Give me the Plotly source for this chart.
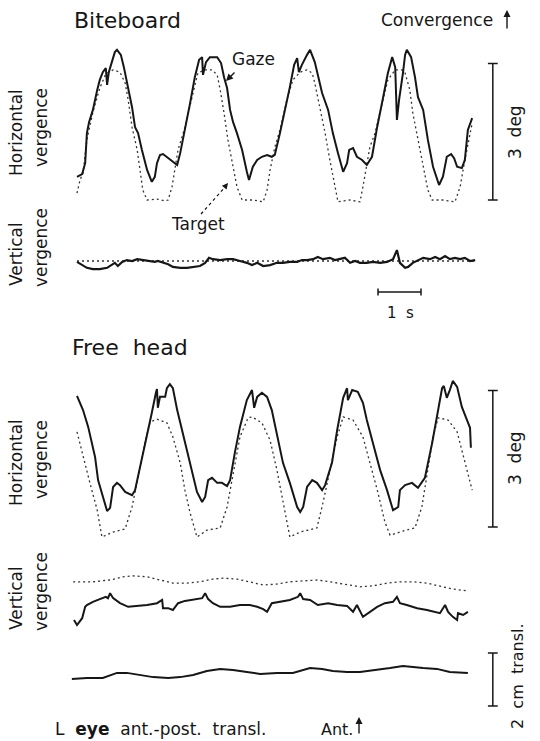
import plotly.graph_objects as go

W, H = 540, 741
FONT = "DejaVu Sans"
INK = "#161616"

# ---------------- data (time in s, vergence in deg, translation in cm) ----------------
# Biteboard - horizontal vergence, gaze
bb_gaze_t = [0.00,0.12,0.19,0.23,0.28,0.37,0.47,0.53,0.60,0.67,0.70,0.74,0.81,0.88,0.93,1.02,1.09,1.19,1.28,1.35,
             1.42,1.51,1.63,1.74,1.81,1.86,1.93,2.00,2.12,2.23,2.33,2.40,2.51,2.63,2.74,2.84,2.91,2.93,3.00,3.09,
             3.26,3.35,3.42,3.49,3.56,3.63,3.72,3.84,3.95,4.00,4.09,4.19,4.30,4.42,4.53,4.60,4.72,4.84,4.95,5.05,
             5.12,5.16,5.23,5.35,5.42,5.53,5.63,5.70,5.84,5.95,6.07,6.19,6.28,6.33,6.42,6.51,6.63,6.74,6.86,6.98,
             7.12,7.23,7.33,7.40,7.44,7.49,7.58,7.63,7.67,7.77,7.86,7.93,8.05,8.16,8.28,8.42,8.51,8.60,8.70,8.77,
             8.84,8.95,9.02,9.09,9.19]
bb_gaze_v = [0.51,0.57,0.81,1.47,1.71,1.98,2.42,2.64,2.81,2.90,2.53,2.81,3.03,3.25,3.30,3.19,2.92,2.48,2.04,1.60,
             1.47,1.10,0.66,0.40,0.51,0.81,0.99,1.01,0.92,0.84,0.77,1.03,1.54,2.13,2.70,3.08,3.14,2.75,3.03,3.14,
             3.14,3.01,2.70,2.46,1.98,1.71,1.47,1.10,0.62,0.44,0.73,0.88,0.95,0.99,0.95,0.99,1.47,1.98,2.48,2.97,
             3.12,2.81,2.97,3.19,3.30,3.03,2.64,2.35,1.98,1.47,1.03,0.62,0.81,1.10,1.14,0.95,0.88,0.77,0.95,1.60,
             2.26,2.79,3.14,2.92,1.76,2.20,2.79,3.19,3.30,3.14,2.70,2.26,1.98,1.32,0.73,0.33,0.51,0.95,1.01,0.92,
             0.73,0.70,0.88,1.54,1.80]

# Biteboard - horizontal vergence, target
bb_tgt_t = [0.00,0.07,0.14,0.23,0.37,0.53,0.67,0.84,1.00,1.12,1.19,1.28,1.40,1.47,1.53,1.63,1.86,2.05,2.12,2.21,
            2.28,2.35,2.51,2.67,2.81,2.98,3.14,3.26,3.33,3.42,3.51,3.63,3.72,3.84,4.09,4.33,4.42,4.49,4.60,4.72,
            4.88,5.02,5.19,5.35,5.47,5.53,5.65,5.77,5.88,6.00,6.07,6.35,6.58,6.65,6.74,6.81,6.93,7.09,7.23,7.40,
            7.56,7.63,7.74,7.81,7.93,8.05,8.16,8.26,8.51,8.79,8.91,9.02,9.14,9.19]
bb_tgt_v = [0.15,0.44,0.59,1.32,1.93,2.46,2.77,2.86,2.81,2.57,2.20,1.60,1.10,0.59,0.22,0.00,0.02,-0.02,0.00,0.29,
            0.73,1.10,1.60,2.26,2.79,2.86,2.86,2.75,2.42,1.91,1.32,0.73,0.29,0.00,0.00,-0.04,0.22,0.66,1.16,1.54,
            2.20,2.64,2.81,2.86,2.79,2.57,2.04,1.47,0.88,0.29,-0.04,0.00,-0.04,0.29,0.81,1.16,1.47,2.13,2.64,2.86,
            2.86,2.79,2.42,1.91,1.32,0.73,0.22,0.00,0.00,-0.04,0.29,0.88,1.47,1.69]

# Biteboard - vertical vergence
bb_vert_t = [0.00,0.12,0.23,0.37,0.53,0.70,0.81,0.88,0.95,1.05,1.16,1.28,1.40,1.53,1.65,1.81,1.88,2.00,2.12,2.23,
             2.40,2.56,2.70,2.86,2.98,3.07,3.16,3.33,3.49,3.63,3.79,3.95,4.07,4.19,4.33,4.49,4.65,4.79,4.95,5.12,
             5.23,5.35,5.49,5.60,5.72,5.88,6.00,6.12,6.23,6.35,6.47,6.58,6.74,6.88,7.05,7.21,7.35,7.44,7.47,7.51,
             7.63,7.70,7.81,7.93,8.05,8.21,8.33,8.44,8.56,8.67,8.79,8.91,9.02,9.14,9.26]
bb_vert_v = [-0.02,-0.09,-0.15,-0.18,-0.18,-0.15,-0.09,-0.04,-0.11,-0.02,0.02,0.00,0.04,0.02,0.00,-0.02,0.00,-0.04,-0.07,-0.13,
             -0.15,-0.15,-0.13,-0.11,-0.04,0.07,0.04,0.02,0.04,0.04,0.00,-0.04,-0.09,-0.04,-0.11,-0.09,-0.04,-0.04,-0.02,-0.02,
             0.02,0.02,0.04,0.09,0.04,0.07,0.02,0.04,0.07,-0.04,0.00,-0.04,-0.04,-0.02,-0.04,-0.02,0.04,0.24,0.09,-0.04,
             -0.15,-0.13,-0.04,0.02,0.07,0.04,0.09,0.04,0.11,0.04,0.07,0.04,0.07,0.00,0.02]
bb_vert_tgt_t = [0.00, 9.26]
bb_vert_tgt_v = [0.00, 0.00]

# Free head - horizontal vergence, gaze
fh_gaze_t = [0.00,0.14,0.26,0.42,0.49,0.60,0.70,0.77,0.84,0.93,1.00,1.12,1.28,1.35,1.47,1.63,1.74,1.84,1.86,1.88,
             1.93,2.05,2.09,2.16,2.23,2.33,2.44,2.56,2.67,2.79,2.91,2.98,3.05,3.14,3.26,3.37,3.49,3.56,3.67,3.79,
             3.95,4.07,4.12,4.19,4.30,4.42,4.53,4.67,4.79,4.95,5.12,5.19,5.26,5.35,5.47,5.58,5.70,5.77,5.93,6.05,
             6.19,6.28,6.30,6.40,6.53,6.65,6.74,6.88,7.05,7.21,7.35,7.47,7.51,7.63,7.79,7.93,8.09,8.26,8.37,8.49,
             8.53,8.60,8.67,8.74,8.84,8.95,9.07,9.14,9.16]
fh_gaze_v = [2.88,2.57,2.20,1.54,1.03,0.66,0.35,0.42,0.88,0.97,0.92,0.77,0.70,0.81,1.32,1.98,2.51,2.97,3.03,2.62,
             2.86,2.86,3.05,3.14,3.05,2.57,2.13,1.69,1.19,0.77,0.55,0.66,1.03,1.08,0.97,0.97,0.90,1.03,1.63,2.20,
             2.79,3.01,2.62,2.86,2.95,2.86,2.57,1.98,1.41,0.97,0.44,0.33,0.44,0.88,1.03,0.97,0.81,0.92,1.41,2.13,
             2.84,3.05,2.79,3.01,2.97,2.73,2.35,1.85,1.25,0.81,0.37,0.44,0.81,0.92,0.97,0.86,1.08,1.85,2.42,3.05,
             3.10,2.84,3.01,3.21,3.08,2.64,2.35,2.18,1.74]

# Free head - horizontal vergence, target
fh_tgt_t = [0.00,0.14,0.30,0.47,0.58,0.84,1.12,1.28,1.42,1.58,1.70,1.86,2.09,2.23,2.40,2.51,2.63,2.79,3.02,3.33,
            3.49,3.63,3.79,3.98,4.07,4.30,4.49,4.65,4.79,4.95,5.19,5.58,5.72,5.88,6.05,6.19,6.42,6.65,6.81,7.00,
            7.16,7.28,7.58,7.86,8.02,8.16,8.28,8.40,8.63,8.84,8.95,9.07,9.19]
fh_tgt_v = [2.09,1.54,0.97,0.37,-0.22,-0.11,-0.04,0.44,1.10,1.85,2.31,2.37,2.29,1.98,1.41,0.81,0.31,-0.22,-0.07,-0.02,
            0.44,1.19,1.98,2.40,2.42,2.29,1.91,1.25,0.59,-0.22,-0.11,-0.02,0.53,1.25,1.98,2.42,2.35,1.98,1.41,0.75,
            0.11,-0.18,-0.09,-0.02,0.44,1.25,1.98,2.40,2.35,2.09,1.69,1.25,0.81]

# Free head - vertical vergence
fh_vert_tgt_t = [-0.09,0.37,0.77,1.07,1.30,1.63,1.93,2.23,2.56,2.86,3.16,3.40,3.72,4.02,4.33,4.65,4.95,5.26,5.58,5.88,
                 6.19,6.58,6.88,7.21,7.51,7.81,8.14,8.44,8.74,9.07]
fh_vert_tgt_v = [0.51,0.51,0.55,0.62,0.64,0.62,0.55,0.48,0.48,0.51,0.57,0.59,0.57,0.51,0.44,0.46,0.51,0.53,0.55,0.51,
                 0.46,0.40,0.42,0.48,0.51,0.51,0.48,0.42,0.35,0.31]
fh_vert_t = [-0.07,0.00,0.12,0.19,0.23,0.37,0.53,0.67,0.72,0.77,0.84,1.00,1.19,1.40,1.63,1.86,1.98,2.00,2.12,2.23,
             2.35,2.51,2.74,2.91,2.98,3.05,3.16,3.33,3.56,3.79,4.02,4.19,4.33,4.42,4.53,4.72,4.95,5.14,5.19,5.26,
             5.42,5.60,5.84,6.05,6.28,6.42,6.51,6.65,6.77,6.98,7.16,7.35,7.44,7.51,7.67,7.91,8.14,8.28,8.44,8.56,
             8.63,8.74,8.84,8.86,8.98,9.09]
fh_vert_v = [-0.33,-0.44,-0.29,-0.04,0.00,0.07,0.13,0.18,0.15,0.26,0.15,0.04,-0.04,-0.02,0.00,0.04,0.11,-0.07,-0.07,-0.11,
             0.04,0.09,0.13,0.15,0.26,0.13,0.04,-0.04,-0.04,0.00,0.00,-0.04,-0.09,-0.15,0.04,0.07,0.11,0.18,0.26,0.13,
             0.11,0.00,0.04,0.00,-0.02,-0.15,0.00,-0.26,-0.18,-0.04,0.04,0.07,0.18,0.04,0.00,-0.07,-0.11,-0.15,-0.18,0.00,
             -0.15,-0.26,-0.33,-0.18,-0.22,-0.15]

# Free head - L eye ant.-post. translation (cm)
tr_t = [-0.12,0.23,0.60,0.93,1.16,1.47,1.77,2.12,2.40,2.70,3.02,3.33,3.63,3.95,4.26,4.65,5.02,5.42,5.70,5.95,
        6.28,6.58,6.98,7.28,7.58,7.79,8.05,8.37,8.67,9.09]
tr_v = [1.02,1.06,1.06,1.25,1.25,1.17,1.09,1.06,1.09,1.17,1.32,1.40,1.36,1.28,1.21,1.25,1.25,1.43,1.40,1.32,
        1.28,1.28,1.36,1.43,1.51,1.47,1.43,1.40,1.28,1.25]

# calibration bars
SCALE_DEG = 3     # deg
SCALE_S = 1       # s
SCALE_CM = 2      # cm
bar_t = 9.67      # time position of the vertical calibration bars
sbar_t0 = 7.0     # start of the 1 s bar
sbar_level = -0.68

# ---------------- layout helpers ----------------
X0_PX, PX_PER_S = 77, 43.0
def yrange(base_px, px_per_unit):
    return [(base_px - H) / px_per_unit, base_px / px_per_unit]

def P(px, py):
    return px / W, 1 - py / H

fig = go.Figure()

solid = dict(color=INK, width=2)
dotted = dict(color="#333", width=1.3, dash="2px,3px")
barline = dict(color=INK, width=1.5)

def add(t, v, ax, line, mode="lines", marker=None):
    fig.add_trace(go.Scatter(x=t, y=v, yaxis=ax, mode=mode, line=line, marker=marker,
                             hoverinfo="skip", showlegend=False))

add(bb_tgt_t, bb_tgt_v, "y", dotted)
add(bb_gaze_t, bb_gaze_v, "y", solid)
add(bb_vert_tgt_t, bb_vert_tgt_v, "y2", dotted)
add(bb_vert_t, bb_vert_v, "y2", dict(color=INK, width=2.2))
add(fh_tgt_t, fh_tgt_v, "y3", dotted)
add(fh_gaze_t, fh_gaze_v, "y3", solid)
add(fh_vert_tgt_t, fh_vert_tgt_v, "y4", dotted)
add(fh_vert_t, fh_vert_v, "y4", solid)
add(tr_t, tr_v, "y5", solid)

capm = dict(symbol="line-ew", size=7, line=dict(color=INK, width=1.5))
add([bar_t, bar_t], [0, SCALE_DEG], "y", barline, "lines+markers", capm)
add([bar_t, bar_t], [0, SCALE_DEG], "y3", barline, "lines+markers", capm)
add([bar_t, bar_t], [0, SCALE_CM], "y5", barline, "lines+markers", capm)
add([sbar_t0, sbar_t0 + SCALE_S], [sbar_level, sbar_level], "y2", barline, "lines+markers",
    dict(symbol="line-ns", size=5, line=dict(color=INK, width=1.5)))

ax_common = dict(visible=False, fixedrange=True, domain=[0, 1])
fig.update_layout(
    width=W, height=H, autosize=False,
    margin=dict(l=0, r=0, t=0, b=0),
    paper_bgcolor="white", plot_bgcolor="white",
    xaxis=dict(range=[-X0_PX / PX_PER_S, (W - X0_PX) / PX_PER_S], visible=False, fixedrange=True, domain=[0, 1]),
    yaxis=dict(range=yrange(200, 45.5), **ax_common),
    yaxis2=dict(range=yrange(261, 45.5), overlaying="y", **ax_common),
    yaxis3=dict(range=yrange(527, 45.5), overlaying="y", **ax_common),
    yaxis4=dict(range=yrange(605, 45.5), overlaying="y", **ax_common),
    yaxis5=dict(range=yrange(706, 26.5), overlaying="y", **ax_common),
)

anns = []

def text(s, px, py, size, angle=0, xanchor="center"):
    x, y = P(px, py)
    anns.append(dict(text=s, x=x, y=y, xref="paper", yref="paper", showarrow=False,
                     xanchor=xanchor, yanchor="middle", textangle=angle,
                     font=dict(family=FONT, size=size, color=INK)))

def arrow(tip_px, tip_py, dx, dy, head=2, width=1.4, size=1.0):
    x, y = P(tip_px, tip_py)
    anns.append(dict(text="", x=x, y=y, xref="paper", yref="paper", showarrow=True,
                     ax=dx, ay=dy, axref="pixel", ayref="pixel", arrowhead=head,
                     arrowsize=size, arrowwidth=width, arrowcolor=INK))

NB = "\u00a0"
text("Biteboard", 72, 20, 22, xanchor="left")
text("Convergence", 495, 20, 17, xanchor="right")
arrow(507, 10, 0, 20)
text("Gaze", 253, 59, 17)
arrow(226, 81, 10, -10)
text("Target", 198, 224, 17)
arrow(228, 183, -4, 5, head=2, width=1.2)
text("Horizontal", 16, 133, 17, -90)
text("vergence", 41, 128, 17, -90)
text("3" + NB + NB + "deg", 515, 132, 17, -90)
text("Vertical", 16, 254, 17, -90)
text("vergence", 41, 248, 17, -90)
text("1" + NB + NB + "s", 400, 313, 15)
text("Free" + NB + NB + "head", 70, 347, 22, xanchor="left")
text("Horizontal", 16, 463, 17, -90)
text("vergence", 41, 460, 17, -90)
text("3" + NB + NB + "deg", 515, 458, 17, -90)
text("Vertical", 16, 598, 17, -90)
text("vergence", 41, 592, 17, -90)
text("2" + NB + NB + "cm" + NB + NB + "transl.", 517, 676, 16, -90)
text("L" + NB + NB + "<b>eye</b>" + NB + NB + "ant.-post." + NB + NB + "transl.", 53, 729, 17, xanchor="left")
text("Ant.", 337, 729, 16)
arrow(359, 717, 0, 18)

x0, y0 = P(201, 214)
x1, y1 = P(226, 186)
fig.update_layout(
    annotations=anns,
    shapes=[dict(type="line", xref="paper", yref="paper", x0=x0, y0=y0, x1=x1, y1=y1,
                 line=dict(color=INK, width=1.2, dash="3px,3px"))],
)

fig.write_html("out.html",
               config={"displayModeBar": False, "staticPlot": True},
               post_script="document.body.style.margin='0';document.body.style.overflow='hidden';")
